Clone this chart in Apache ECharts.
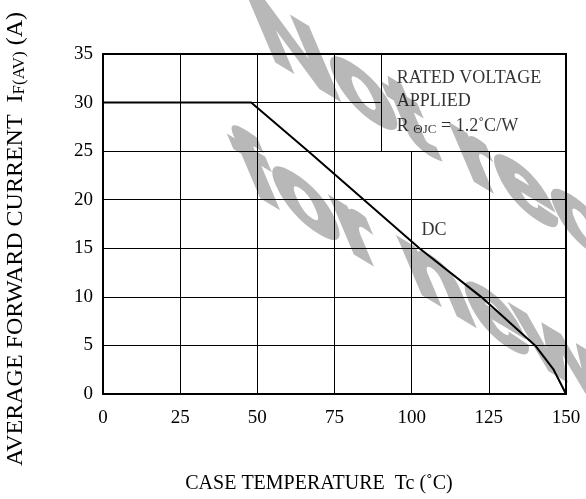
<!DOCTYPE html>
<html><head><meta charset="utf-8">
<script src="https://cdn.jsdelivr.net/npm/echarts@6/dist/echarts.min.js"></script>
<style>html,body{margin:0;padding:0;background:#fff}#c{width:586px;height:499px}</style>
</head><body><div id="c"></div>
<script>
// ---- data ----
const xTicks = [0, 25, 50, 75, 100, 125, 150];
const yTicks = [0, 5, 10, 15, 20, 25, 30, 35];
const caseTemp = [0, 48, 66.5, 84.5, 102.5, 122.5, 140, 146, 150];
const dcCurrent = [30, 30, 25, 20, 15, 10, 5, 2.5, 0];
const boxX = [90, 150];      // note box x range
const boxY = [25, 35];       // note box y range
const noteX = [95.2, 95.2, 95.2, 107.2];
const noteY = [32.5, 30.1, 27.6, 16.9];
const noteText = ['RATED VOLTAGE', 'APPLIED', '{n|R }{s|ΘJC}{n| = 1.2˚C/W}', 'DC'];
const xName = 'CASE TEMPERATURE  Tc (˚C)';
const yName = 'AVERAGE FORWARD CURRENT  I{s|F(AV)} (A)';
const watermark = ['Not recommended', 'for new designs'];

const serif = "'Liberation Serif','Times New Roman',serif";
const chart = echarts.init(document.getElementById('c'));

// grid lines (interior), omitted inside the note box
const gridLines = [];
xTicks.slice(1, -1).forEach(x => {
  gridLines.push([{coord: [x, 0]}, {coord: [x, x >= boxX[0] ? boxY[0] : yTicks[yTicks.length - 1]]}]);
});
yTicks.slice(1, -1).forEach(y => {
  gridLines.push([{coord: [0, y]}, {coord: [y > boxY[0] ? boxX[0] : xTicks[xTicks.length - 1], y]}]);
});
gridLines.push([{coord: [boxX[0], boxY[0]]}, {coord: [boxX[0], boxY[1]]}]);

const noteData = noteX.map((x, i) => ({value: [x, noteY[i]], name: noteText[i],
  label: i === 3 ? {position: 'inside'} : {position: 'right', distance: 0}}));

const wmStyle = {fill: '#b8b8b8', stroke: '#b8b8b8', lineWidth: 6, fontFamily: "'Liberation Sans',Arial,sans-serif",
  fontWeight: 'bold', fontSize: 102, verticalAlign: 'bottom'};
const skX = Math.atan(1 / Math.tan(67 * Math.PI / 180));
const skY = -Math.atan(Math.tan(31 * Math.PI / 180));

chart.setOption({
  animation: false,
  backgroundColor: '#fff',
  grid: {left: 103, right: 20, top: 54, bottom: 105, show: true, borderColor: '#000', borderWidth: 2, backgroundColor: 'transparent'},
  xAxis: {type: 'value', min: 0, max: 150, interval: 25,
    axisLine: {show: true, lineStyle: {color: '#000', width: 2}}, axisTick: {show: false}, splitLine: {show: false},
    axisLabel: {color: '#000', fontFamily: serif, fontSize: 19, margin: 15}},
  yAxis: {type: 'value', min: 0, max: 35, interval: 5,
    axisLine: {show: true, lineStyle: {color: '#000', width: 2}}, axisTick: {show: false}, splitLine: {show: false},
    axisLabel: {color: '#000', fontFamily: serif, fontSize: 19, margin: 10}},
  series: [
    {type: 'line', data: caseTemp.map((x, i) => [x, dcCurrent[i]]), symbol: 'none',
      lineStyle: {color: '#000', width: 2}, z: 3,
      markLine: {silent: true, symbol: 'none', label: {show: false}, animation: false,
        lineStyle: {color: '#000', width: 1, type: 'solid'}, emphasis: {disabled: true}, data: gridLines}},
    {type: 'scatter', data: noteData, symbolSize: 0, silent: true, z: 4,
      label: {show: true, color: '#000', fontFamily: serif, fontSize: 18,
        formatter: p => p.name,
        rich: {n: {fontFamily: serif, fontSize: 18, color: '#000'},
               s: {fontFamily: serif, fontSize: 13, color: '#000', padding: [7, 0, 0, 0]}}}}
  ],
  graphic: [
    {type: 'text', z: -10, x: 280, y: 80, skewX: skX, skewY: skY,
      style: Object.assign({text: watermark[0]}, wmStyle)},
    {type: 'text', z: -10, x: 262, y: 214, skewX: skX, skewY: skY,
      style: Object.assign({text: watermark[1]}, wmStyle)},
    {type: 'text', x: 319, y: 484,
      style: {text: xName, fill: '#000', fontFamily: serif, fontSize: 20, align: 'center', verticalAlign: 'middle'}},
    {type: 'text', x: 16, y: 239, rotation: Math.PI / 2,
      style: {text: yName, fill: '#000', fontFamily: serif, fontSize: 24, align: 'center', verticalAlign: 'middle',
        rich: {s: {fontFamily: serif, fontSize: 17, fill: '#000', padding: [8, 0, 0, 0]}}}}
  ]
});
</script></body></html>
